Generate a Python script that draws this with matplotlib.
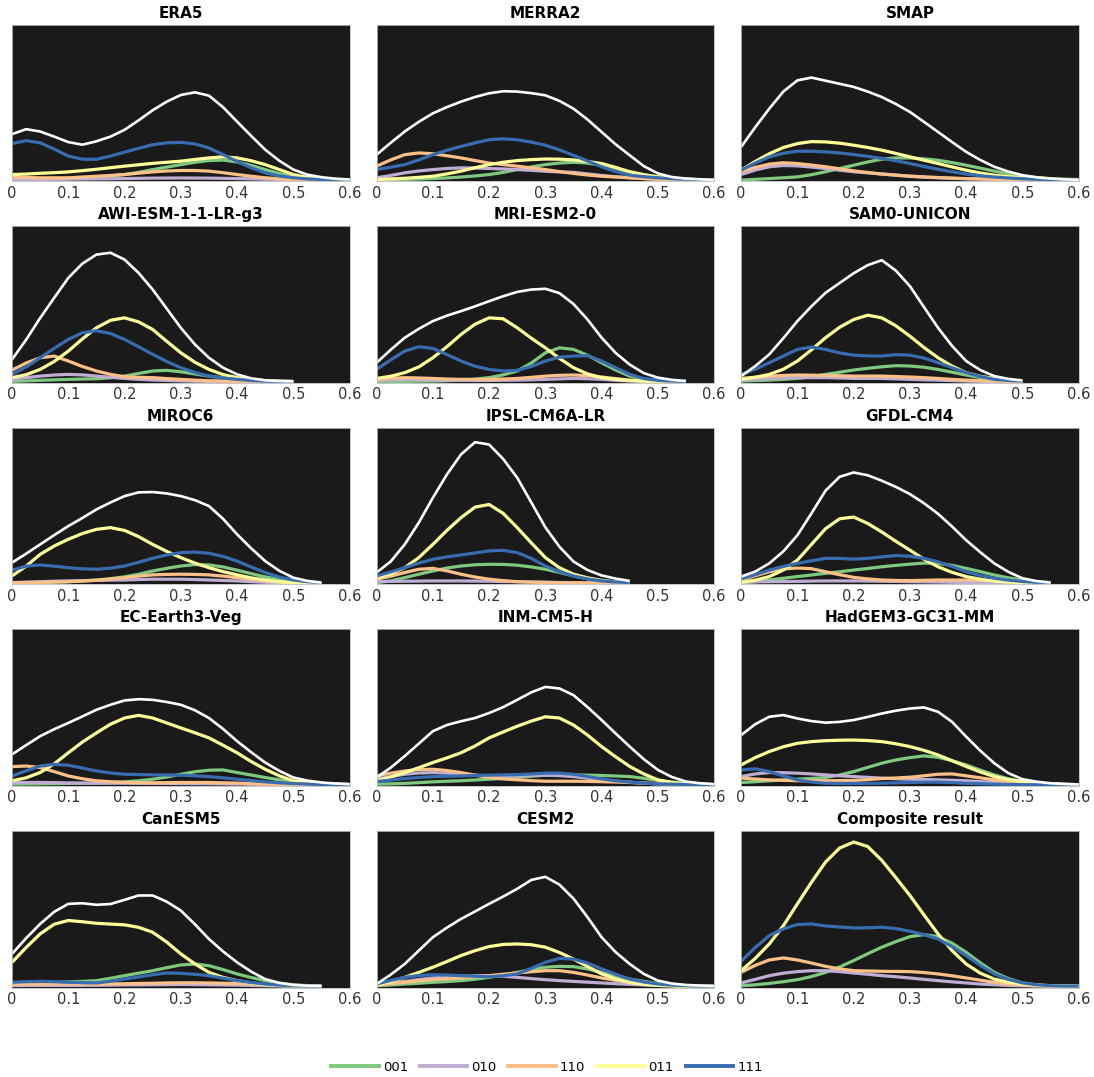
import numpy as np
import matplotlib
matplotlib.use("Agg")
import matplotlib.pyplot as plt
from matplotlib.lines import Line2D

nan = float("nan")

# soil-moisture bins (x axis) shared by every panel
x_grid = [0.0, 0.025, 0.05, 0.075, 0.10, 0.125, 0.15, 0.175, 0.20, 0.225, 0.25, 0.275,
          0.30, 0.325, 0.35, 0.375, 0.40, 0.425, 0.45, 0.475, 0.50, 0.525, 0.55, 0.575, 0.60]

labels = ["001", "010", "110", "011", "111"]
colors = ["#7fc97f", "#beaed4", "#fdc086", "#ffff99", "#386cb0"]

titles = ["ERA5", "MERRA2", "SMAP",
          "AWI-ESM-1-1-LR-g3", "MRI-ESM2-0", "SAM0-UNICON",
          "MIROC6", "IPSL-CM6A-LR", "GFDL-CM4",
          "EC-Earth3-Veg", "INM-CM5-H", "HadGEM3-GC31-MM",
          "CanESM5", "CESM2", "Composite result"]

# each panel: [001, 010, 110, 011, 111, total]  (density, % of panel height)
# lists shorter than x_grid stop where the curve stops in the figure
era5 = [
    [0.4, 0.5, 0.6, 0.8, 1, 1.4, 2, 2.7, 3.6, 5, 6.8, 8.4, 10, 11.5, 12.6, 12.9, 11.7, 9.5, 6.8, 4.2, 2.1, 1.1, 0.6, 0.3, 0.2],
    [0.5, 0.5, 0.5, 0.55, 0.6, 0.7, 0.8, 0.9, 1, 1.15, 1.3, 1.35, 1.4, 1.35, 1.3, 1.15, 1, 0.8, 0.6, 0.45, 0.3, 0.2, 0.1, 0.05, 0],
    [1.9, 1.7, 1.5, 1.5, 1.5, 2, 2.5, 3, 3.6, 4.5, 5.3, 5.9, 6.2, 6.2, 5.8, 4.8, 3.6, 2.5, 1.5, 0.9, 0.5, 0.3, 0.2, 0.1, 0.1],
    [3.6, 3.9, 4.4, 4.8, 5.3, 6.1, 7, 8, 9, 9.9, 10.8, 11.5, 12.2, 13.3, 14.3, 15, 14.3, 12.5, 10, 6.8, 3.6, 1.8, 0.9, 0.5, 0.3],
    [23.5, 25.4, 24, 20, 15.5, 13.5, 13.4, 15.5, 18, 20.5, 22.8, 24, 24.3, 23.3, 20.7, 16.5, 12, 8, 4.7, 2.7, 1.5, 0.8, 0.4, 0.3, 0.2],
    [29.6, 32.8, 31.3, 28, 24.5, 22.8, 25, 28, 32.4, 38.5, 45, 50.5, 54.8, 56.5, 54.4, 47, 37.7, 28.5, 19.6, 12.5, 6.8, 3.5, 1.9, 0.9, 0.4],
]
merra2 = [
    [0.2, 0.3, 0.5, 0.7, 1, 1.4, 2, 2.7, 3.6, 5, 6.8, 8.5, 10, 11, 11.5, 11, 9.6, 7.5, 5.3, 3.5, 2.1, 1.2, 0.6, 0.3, 0.2],
    [1.5, 3, 4.7, 5.9, 6.8, 7.5, 7.9, 7.8, 7.5, 7.2, 6.8, 6.3, 5.7, 5.3, 5, 4, 3, 2.2, 1.5, 1, 0.6, 0.4, 0.2, 0.1, 0],
    [9, 13, 16.4, 17.5, 17, 15.7, 14.3, 12.6, 11, 10, 9, 7.9, 6.8, 5.5, 4.3, 3.3, 2.5, 2, 1.5, 1, 0.5, 0.3, 0.2, 0.1, 0],
    [0.4, 0.8, 1.2, 1.8, 2.5, 4, 5.8, 8, 10, 11.5, 12.6, 13.2, 13.6, 13.5, 13, 12, 10.7, 8.2, 5.4, 3.5, 2.1, 1.2, 0.6, 0.3, 0.2],
    [6.8, 8.3, 10, 13, 16.4, 19.2, 21.7, 24, 26, 26.6, 26, 24.5, 22.5, 19.5, 16, 12.3, 8.6, 5.5, 3.2, 2.2, 1.5, 1, 0.6, 0.4, 0.2],
    [16.4, 24, 31.3, 37.5, 43, 47, 50.5, 53.5, 55.9, 57.2, 57, 56, 54.6, 51, 46, 39, 31, 23, 16, 9, 4.3, 2, 1, 0.5, 0.2],
]
smap = [
    [0, 0.5, 1, 1.5, 2.1, 3.5, 5.4, 7.5, 9.6, 11.7, 13.5, 14.3, 14.3, 13.7, 12.8, 11.3, 9.6, 7.7, 5.8, 4, 2.6, 1.7, 1, 0.6, 0.4],
    [3.6, 6.5, 8.6, 9.4, 9.2, 8.4, 7.5, 6.4, 5.4, 4.7, 4, 3.2, 2.4, 1.9, 1.5, 1.2, 0.9, 0.7, 0.5, 0.3, 0.2, 0.1, 0.1, 0, 0],
    [5.4, 8.2, 10.3, 11.2, 10.7, 9.7, 8.6, 7.3, 6, 4.9, 3.9, 3.2, 2.6, 2.1, 1.7, 1.3, 1, 0.8, 0.6, 0.4, 0.3, 0.2, 0.1, 0.05, 0],
    [6.4, 12, 17, 21, 23.5, 24.8, 24.6, 23.8, 22.5, 21, 19.3, 17.2, 15, 12.8, 10.7, 8.5, 6.4, 4.6, 3.2, 2.2, 1.5, 0.9, 0.4, 0.2, 0.1],
    [6.4, 11, 15, 17.3, 18.6, 18.6, 18.2, 17.5, 16.5, 15.3, 14, 12.5, 10.7, 8.8, 7, 5.4, 3.9, 2.8, 2, 1.4, 0.9, 0.6, 0.4, 0.2, 0.1],
    [21.4, 34, 46, 57, 64.2, 66, 64, 62, 60, 57, 53.5, 49, 43.9, 37.5, 31, 24.5, 18.2, 13, 8.6, 5.5, 3.2, 1.8, 1, 0.5, 0.2],
]
awi = [
    [0.2, 0.5, 0.9, 1.2, 1.5, 1.7, 1.9, 2.5, 3.6, 5.3, 6.9, 7.3, 6.4, 5, 3.6, 2.5, 1.5, 0.9, 0.4, 0.2, 0.1],
    [1.5, 2.6, 3.6, 4.3, 4.7, 4.4, 3.6, 2.8, 2.1, 1.5, 1.1, 0.8, 0.5, 0.3, 0.2, 0.1, 0.1, 0, 0, 0, 0],
    [7.5, 12, 15.4, 16.5, 13.3, 9.8, 6.9, 4.7, 3.2, 2.8, 2.6, 2, 1.5, 1, 0.6, 0.4, 0.2, 0.1, 0.1, 0, 0],
    [2.6, 4.5, 7.9, 13, 19.7, 27.5, 34.7, 39.5, 41.1, 38.5, 33.6, 26, 18.6, 12.5, 7.9, 4.6, 2.6, 1.4, 0.7, 0.4, 0.2],
    [4.7, 9.5, 15.4, 21.5, 27.2, 31.5, 32.8, 31, 27.2, 22.5, 17.6, 13, 9, 6, 3.6, 2.4, 1.5, 0.8, 0.4, 0.2, 0.1],
    [14.3, 27, 41, 54, 66.8, 76, 81.8, 83, 78.6, 70, 59.3, 47, 34.7, 24, 15.4, 9, 4.7, 2.2, 0.9, 0.4, 0.2],
]
mri = [
    [0, 0.1, 0.2, 0.3, 0.4, 0.6, 1, 1.6, 2.6, 4.4, 6.9, 12, 18.6, 21.8, 20.8, 17, 12.2, 7.5, 3.6, 1.8, 0.8, 0.4, 0.2],
    [0.8, 1.2, 1.5, 1.3, 1.1, 1, 0.9, 0.8, 0.8, 0.9, 1, 1.2, 1.5, 1.8, 2.1, 1.9, 1.5, 0.9, 0.4, 0.2, 0.1, 0.05, 0],
    [1.5, 2.2, 2.6, 2.4, 2.1, 1.7, 1.5, 1.5, 1.5, 1.7, 2.1, 2.8, 3.6, 4.1, 4.3, 3.9, 3, 2, 1, 0.5, 0.2, 0.1, 0],
    [2.1, 3.5, 5.8, 9.5, 15.4, 22.5, 30.4, 37, 41.1, 40.5, 34.7, 28, 21.8, 15, 9, 5, 2.6, 1.5, 0.8, 0.4, 0.2, 0.1, 0],
    [7.9, 14, 19.7, 22.5, 21.4, 17.5, 13.3, 10, 7.9, 6.9, 7.3, 9.8, 13.3, 15.8, 16.5, 16.8, 13.3, 9, 4.7, 2, 0.8, 0.4, 0.2],
    [12.2, 20.5, 28.3, 34, 39, 42.5, 45.4, 48.5, 51.8, 55, 57.8, 59.3, 59.8, 57, 50, 40, 28.3, 18.5, 11, 5.5, 2.6, 1.2, 0.4],
]
sam0 = [
    [0.4, 0.7, 1, 1.5, 2.1, 3.2, 4.7, 6.1, 7.5, 8.6, 9.6, 10.3, 10.1, 9.3, 7.9, 6.1, 4.3, 2.7, 1.5, 0.8, 0.4],
    [1, 1.6, 2.1, 2.4, 2.6, 2.6, 2.6, 2.4, 2.1, 2.1, 2.1, 1.8, 1.5, 1.2, 1, 0.7, 0.4, 0.2, 0.1, 0.05, 0],
    [2.1, 2.9, 3.6, 4, 4.3, 4.2, 4.1, 3.8, 3.6, 3.6, 3.6, 3.3, 3, 2.6, 2.1, 1.5, 1, 0.7, 0.4, 0.2, 0.1],
    [1.5, 2.8, 4.7, 8, 13.3, 20.5, 28.3, 35, 40, 42.8, 41.1, 36, 29.3, 22, 15.4, 10, 5.8, 3.5, 2.1, 1, 0.4],
    [4.7, 8, 12.2, 16.5, 20.8, 22.3, 20.8, 18.5, 17.1, 16.6, 16.5, 17.4, 17.1, 15.2, 12.2, 9, 5.8, 3.3, 1.5, 0.8, 0.4],
    [3.6, 10, 17.6, 28, 39, 48.5, 57.2, 63.5, 69.8, 75, 78.2, 71.5, 61.5, 48, 34.7, 23, 13.3, 7.5, 3.6, 1.8, 0.8],
]
miroc6 = [
    [0, 0.2, 0.4, 0.7, 1, 1.5, 2.1, 3, 4.1, 5.8, 7.9, 9.6, 11.1, 12, 11.8, 10.5, 8.4, 6.2, 4.1, 2.4, 1, 0.5, 0.2],
    [0.4, 0.7, 1, 1.3, 1.5, 1.7, 1.8, 2, 2.1, 2.4, 2.6, 2.6, 2.6, 2.4, 2.1, 1.8, 1.5, 1, 0.6, 0.4, 0.2, 0.1, 0],
    [0.4, 0.5, 0.6, 0.8, 1, 1.4, 1.9, 2.7, 3.6, 4.6, 5.4, 5.7, 5.8, 5.7, 5.4, 4.6, 3.6, 2.5, 1.5, 0.8, 0.4, 0.2, 0.1],
    [4.7, 11, 18.6, 24, 28.3, 32, 34.7, 35.8, 34, 30, 25, 20.5, 16.5, 13, 10, 7.5, 5.4, 3.5, 2.1, 1, 0.4, 0.2, 0.1],
    [8.4, 11, 11.8, 11, 10, 9.3, 9, 9.7, 11.1, 13.5, 16.1, 18.2, 19.7, 20.1, 19.3, 17.3, 14.3, 10.5, 6.9, 4, 2.1, 1, 0.4],
    [13.3, 19, 25, 31, 36.8, 42, 47.5, 52, 56.1, 58.5, 58.7, 57.8, 56.1, 53.5, 49.7, 41.5, 31.5, 22.5, 14.3, 8, 3.6, 1.5, 0.4],
]
ipsl = [
    [0.4, 1.5, 3.6, 5.8, 7.9, 9.8, 11.1, 11.9, 12.2, 12.1, 11.6, 10.5, 9, 7, 4.7, 2.8, 1.5, 0.8, 0.4],
    [1, 1.2, 1.3, 1.4, 1.5, 1.5, 1.5, 1.4, 1.3, 1.1, 1, 0.8, 0.7, 0.5, 0.4, 0.3, 0.2, 0.1, 0.1],
    [2.6, 4.5, 6.9, 9, 9.6, 8, 5.8, 4, 2.6, 1.7, 1, 0.7, 0.5, 0.3, 0.2, 0.1, 0.1, 0, 0],
    [3.6, 6, 10, 16.5, 25, 34, 42.2, 49, 50.7, 45, 35.8, 26, 16.5, 10, 5.8, 3.5, 1.9, 0.9, 0.4],
    [4.7, 7.3, 10, 13, 15.4, 17, 18.2, 19.5, 20.8, 21.2, 19.7, 16, 11.1, 7.5, 4.7, 2.8, 1.5, 0.8, 0.4],
    [6.9, 14, 25, 39, 55, 70, 82.9, 90.8, 89.3, 80, 67.9, 52, 36, 23.5, 14, 8.5, 5, 3, 1.5],
]
gfdl = [
    [0.2, 1, 2.1, 3.2, 4.3, 5.3, 6.4, 7.4, 8.5, 9.5, 10.6, 11.5, 12.3, 13, 12.8, 11.5, 9.6, 7.5, 5.3, 3.5, 2.1, 1, 0.4],
    [0.8, 0.9, 1, 1.1, 1.2, 1.4, 1.5, 1.5, 1.5, 1.4, 1.3, 1.2, 1, 0.9, 0.8, 0.6, 0.5, 0.4, 0.3, 0.2, 0.1, 0.05, 0],
    [2.1, 4.8, 7.4, 9.2, 9.8, 9.4, 7.4, 5.5, 3.8, 2.8, 2.1, 1.8, 1.7, 1.9, 2.1, 2.1, 2.1, 1.9, 1.5, 1, 0.6, 0.3, 0.1],
    [0.6, 2, 4.3, 8.5, 14.9, 25, 35.1, 41.5, 42.6, 38.5, 33, 27, 21.3, 15.5, 10.6, 7, 4.3, 2.6, 1.5, 0.8, 0.4, 0.2, 0.1],
    [2.8, 5.5, 8.5, 10.8, 12.8, 14.5, 16, 16, 15.5, 16, 17, 17.8, 17.4, 16, 13.8, 10.8, 7.4, 5, 3.2, 2, 1.1, 0.6, 0.3],
    [4.3, 7.5, 12.8, 20.5, 30.9, 45, 59.6, 68.5, 71.3, 69.5, 66, 62, 57.4, 51.5, 44.7, 36.5, 27.7, 20, 12.8, 7.3, 3.2, 1.4, 0.4],
]
ec_earth = [
    [0.4, 0.5, 0.6, 0.7, 0.9, 1, 1.2, 1.5, 1.9, 2.6, 3.6, 5, 6.8, 8.4, 9.4, 9.6, 7.9, 6.3, 4.7, 3.2, 1.9, 1.1, 0.6, 0.4, 0.2],
    [1.5, 1.5, 1.5, 1.4, 1.2, 1.1, 1, 1, 1, 0.95, 0.9, 0.85, 0.8, 0.75, 0.7, 0.6, 0.5, 0.4, 0.3, 0.25, 0.2, 0.15, 0.1, 0.05, 0],
    [11.7, 12.1, 11.1, 8.5, 5.7, 3.9, 2.6, 2, 1.5, 1.4, 1.3, 1.4, 1.5, 1.5, 1.5, 1.3, 1.1, 0.7, 0.4, 0.2, 0.1, 0.05, 0, 0, 0],
    [2.6, 4.5, 7.9, 13.5, 20.6, 27.5, 33.4, 39, 43, 44.7, 43, 39.8, 36.6, 33.5, 30.2, 25.5, 20.6, 15, 10, 5.8, 2.6, 1.5, 0.9, 0.5, 0.2],
    [5.7, 9, 12.1, 13.2, 12.6, 10.8, 8.9, 7.6, 6.8, 6.6, 6.4, 6.3, 6.2, 5.8, 5.3, 4.5, 3.6, 2.7, 1.9, 1.3, 0.8, 0.5, 0.2, 0.1, 0],
    [19.6, 25.5, 31.3, 35.8, 39.8, 44, 48.3, 51.5, 54.3, 55.1, 54.7, 53.3, 51.5, 48, 43, 36, 28.1, 21, 14.3, 9, 4.7, 2.7, 1.5, 0.8, 0.4],
]
inm = [
    [0.4, 0.6, 0.9, 1.4, 1.9, 2.3, 2.6, 3.1, 3.6, 4.1, 4.7, 5.5, 6.2, 6.4, 6.4, 6.2, 6, 5.7, 5.3, 4.2, 2.8, 1.8, 1, 0.5, 0.2],
    [3.6, 5.3, 6.8, 7.6, 7.9, 7.5, 6.8, 6.2, 5.7, 5.6, 5.7, 6, 6.2, 5.9, 5.3, 4.3, 3.2, 2.4, 1.7, 1.1, 0.6, 0.4, 0.2, 0.1, 0],
    [5.7, 7.5, 8.9, 9.8, 10, 9.2, 7.9, 6.2, 4.7, 3.8, 3.2, 2.7, 2.3, 2.3, 2.3, 2.2, 2, 1.8, 1.5, 1.1, 0.8, 0.5, 0.2, 0.1, 0],
    [2.6, 5, 7.9, 11, 14.3, 17.3, 20.6, 25, 30.2, 34, 37.7, 41, 43.8, 43, 38.5, 32, 24.6, 18, 11.8, 7, 3.2, 1.5, 0.6, 0.3, 0.1],
    [2.1, 3, 4, 4.7, 5.3, 5.5, 5.7, 6, 6.2, 6.4, 6.6, 7, 7.5, 7.5, 6.8, 5.3, 3.8, 2.6, 1.7, 1.1, 0.6, 0.4, 0.2, 0.1, 0],
    [4.7, 11, 18.5, 26.5, 34.5, 38.5, 40.9, 43, 46.2, 50, 54.7, 59.5, 63, 62, 57.7, 50, 41.7, 33, 24.6, 16.5, 9.6, 5, 2.1, 1, 0.4],
]
hadgem = [
    [1.5, 2, 2.6, 3.1, 3.6, 4.1, 4.7, 6.3, 8.5, 11.2, 13.9, 16, 17.5, 18.6, 17.7, 15.5, 12.8, 9.5, 6.4, 3.9, 2.1, 1.2, 0.6, 0.3, 0.1],
    [5.3, 7, 7.9, 7.8, 7.5, 7, 6.4, 5.8, 5.3, 4.8, 4.3, 3.9, 3.6, 3.4, 3.2, 2.9, 2.6, 2.1, 1.5, 1, 0.6, 0.4, 0.2, 0.1, 0],
    [4.3, 3.7, 3.2, 2.9, 2.6, 2.6, 2.6, 2.7, 2.8, 3.3, 4, 4.4, 4.9, 5.8, 6.8, 7, 5.8, 4.5, 3.2, 2, 1, 0.5, 0.2, 0.1, 0],
    [12.8, 17.5, 21.4, 24.5, 26.7, 27.8, 28.4, 28.7, 28.8, 28.5, 27.8, 26.4, 24.6, 22.2, 19.2, 15.5, 11.8, 8.3, 5.3, 3.4, 2.1, 1.2, 0.6, 0.3, 0.1],
    [9.6, 10.3, 8.5, 5.7, 3.2, 1.8, 1, 0.9, 0.9, 0.9, 1, 1.3, 1.5, 1.7, 1.7, 1.4, 1, 0.7, 0.4, 0.2, 0.1, 0.05, 0, 0, 0],
    [32, 39, 43.8, 44.9, 42.7, 41, 40, 40.5, 41.7, 43.7, 45.9, 47.7, 49.1, 49.8, 47, 40.5, 31, 22, 13.9, 7.5, 3.6, 2, 1, 0.5, 0.2],
]
canesm5 = [
    [1.5, 1.8, 2.2, 2.5, 2.8, 3.2, 3.7, 5.2, 6.9, 8.5, 10.1, 12, 13.8, 14.4, 13.3, 10.8, 8, 5.7, 3.7, 2.1, 1, 0.5, 0.2],
    [0.5, 0.55, 0.6, 0.6, 0.6, 0.65, 0.7, 0.8, 0.9, 0.95, 1, 1.1, 1.2, 1.1, 1, 0.9, 0.8, 0.6, 0.4, 0.3, 0.2, 0.1, 0],
    [1.3, 1.4, 1.5, 1.5, 1.5, 1.5, 1.5, 1.6, 1.7, 1.85, 2, 2.2, 2.3, 2.3, 2.2, 2, 1.8, 1.5, 1.2, 0.9, 0.6, 0.4, 0.2],
    [15.5, 25, 33.8, 40, 42.4, 41.6, 40.6, 40.1, 39.6, 38, 34.8, 28.5, 20.9, 14.5, 9, 5.8, 3.7, 2.2, 1.1, 0.5, 0.2, 0.1, 0],
    [2.6, 3, 3.2, 3, 2.6, 2.4, 2.2, 3.3, 4.7, 6.1, 7.5, 8.6, 8.4, 7.8, 6.9, 5.3, 3.7, 2.5, 1.5, 0.8, 0.4, 0.2, 0.1],
    [20.9, 31, 40.2, 48, 53.1, 53.5, 52.5, 53, 55.7, 58.5, 58.5, 54.5, 48.8, 40, 30.5, 22.5, 15.5, 9.5, 4.7, 2.2, 0.9, 0.4, 0.2],
]
cesm2 = [
    [0.4, 0.9, 1.5, 2, 2.6, 3.1, 3.7, 4.6, 5.8, 7.3, 9, 10.8, 12.3, 12.9, 12.7, 11.2, 9, 6.8, 4.7, 3.2, 1.9, 1, 0.4, 0.2, 0.1],
    [0.9, 2, 3.2, 4.4, 5.4, 6, 6.5, 6.8, 6.9, 6.5, 5.8, 5, 4.3, 3.7, 3.2, 2.7, 2.2, 1.7, 1.3, 0.9, 0.6, 0.4, 0.2, 0.1, 0],
    [0.9, 1.7, 2.6, 3.5, 4.3, 4.9, 5.4, 6.1, 6.9, 7.8, 8.6, 9.4, 10.1, 10.1, 9, 7.3, 5.4, 3.9, 2.6, 1.7, 0.9, 0.5, 0.2, 0.1, 0],
    [0.9, 3, 5.8, 9, 12.3, 16, 19.8, 23, 25.6, 27, 27.3, 26.8, 25.2, 21.8, 17.6, 12.8, 8, 4.8, 2.6, 1.3, 0.6, 0.3, 0.1, 0, 0],
    [1.5, 3.8, 5.8, 7, 7.5, 7.3, 6.9, 6.5, 6.2, 6.8, 8, 11.5, 15.5, 18, 17.6, 15, 11.2, 7.8, 4.7, 2.8, 1.5, 0.8, 0.4, 0.2, 0.1],
    [1.5, 7.5, 14.4, 23, 31.6, 37.8, 43.4, 48.2, 53.1, 57.8, 62.8, 68.5, 70.5, 65.5, 56.5, 44.5, 31.6, 22, 14.4, 8, 3.7, 1.8, 0.9, 0.5, 0.2],
]
composite = [
    [0.4, 1, 1.9, 3, 4.3, 6.3, 9, 12.5, 16.6, 21, 25.2, 28.8, 32, 33.3, 32, 27.8, 21.9, 15.2, 9, 5, 2.2, 1, 0.4, 0.2, 0.1],
    [2.2, 4.5, 6.9, 8.5, 9.5, 10.1, 10.1, 9.5, 8.6, 7.8, 6.9, 6.2, 5.4, 4.5, 3.7, 2.9, 2.2, 1.5, 1, 0.6, 0.4, 0.2, 0.1, 0.05, 0],
    [9, 13.5, 17, 18.3, 17, 15, 12.9, 11.3, 10.1, 9.9, 9.7, 9.6, 9.5, 8.9, 8, 6.8, 5.4, 4, 2.6, 1.6, 0.8, 0.4, 0.2, 0.1, 0],
    [10.1, 18, 27.3, 39, 53.1, 67, 80, 89, 92.9, 90, 81.1, 70, 58.5, 46, 33.8, 23, 14.4, 8.5, 4.7, 2.7, 1.5, 0.8, 0.4, 0.2, 0.1],
    [16.1, 25, 32.7, 37, 39.8, 40.2, 38.9, 38.2, 37.6, 37.7, 38.1, 37.2, 35.5, 33.3, 30.5, 25.5, 19.8, 13.5, 8, 4.5, 2.2, 1, 0.4, 0.2, 0.1],
    None,
]

panels = [era5, merra2, smap, awi, mri, sam0, miroc6, ipsl, gfdl,
          ec_earth, inm, hadgem, canesm5, cesm2, composite]


def padded(vals):
    # curves that stop early in the figure are left blank past their end
    return list(vals) + [nan] * (len(x_grid) - len(vals))


fig, axes = plt.subplots(5, 3, figsize=(10.94, 10.77), dpi=100)
fig.subplots_adjust(left=0.011, right=0.986, top=0.977, bottom=0.083,
                    wspace=0.08, hspace=0.287)

for ax, title, curves in zip(axes.flat, titles, panels):
    ax.set_facecolor("#1a1a1a")
    for vals, c in zip(curves[:5], colors):
        ax.plot(x_grid, padded(vals), color=c, lw=2.3, solid_capstyle="butt")
    if curves[5] is not None:
        ax.plot(x_grid, padded(curves[5]), color="white", lw=1.9, solid_capstyle="butt")
    ax.set_xlim(0, 0.6)
    ax.set_ylim(-0.8, 100)
    ax.set_xticks([0, 0.1, 0.2, 0.3, 0.4, 0.5, 0.6])
    ax.set_xticklabels(["0", "0.1", "0.2", "0.3", "0.4", "0.5", "0.6"])
    ax.set_yticks([])
    ax.tick_params(axis="x", length=0, pad=3, labelsize=10.5, labelcolor="#333333")
    for sp in ax.spines.values():
        sp.set_color("#bbbbbb")
        sp.set_linewidth(0.6)
    ax.set_title(title, fontsize=11, fontweight="bold", pad=5)

handles = [Line2D([0], [0], color=c, lw=2.8) for c in colors]
fig.legend(handles, labels, loc="center", bbox_to_anchor=(0.5, 0.009),
           ncol=5, frameon=False, fontsize=9.5, handlelength=3.6,
           handletextpad=0.3, columnspacing=0.9)

fig.savefig("out.png", dpi=100)
